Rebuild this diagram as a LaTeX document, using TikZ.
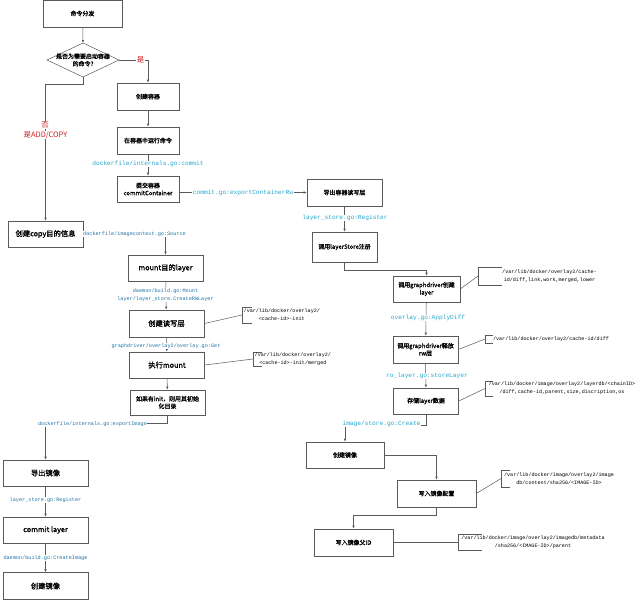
\documentclass[tikz,border=0pt]{standalone}
\usepackage{fontspec}
\setmainfont{Noto Sans CJK SC}
\newfontfamily\bcjk{Noto Sans CJK SC}[FakeBold=1.2]
\newfontfamily\monof{Liberation Mono}
\usetikzlibrary{arrows.meta}
\definecolor{cyR}{RGB}{40,168,208}
\definecolor{cyL}{RGB}{30,115,165}
\definecolor{redl}{RGB}{205,35,35}
\definecolor{bord}{RGB}{90,90,90}
\begin{document}
\begin{tikzpicture}[x=1bp,y=-1bp,
 box/.style={draw=bord,line width=0.6bp,fill=white,inner sep=1bp,align=center,font=\bcjk\fontsize{6}{7.5}\selectfont},
 bigbox/.style={box,font=\bcjk\fontsize{7.3}{9}\selectfont},
 sz/.style 2 args={minimum width=#1bp,minimum height=#2bp},
 conn/.style={draw=bord, line width=0.5bp, -{Latex[length=3bp,width=2.4bp]}},
 plain/.style={draw=bord, line width=0.5bp},
 lblR/.style={text=cyR,font=\monof\fontsize{6.2}{7}\selectfont,fill=white,inner sep=0.5bp},
 lblL/.style={text=cyL,font=\monof\fontsize{5.2}{8}\selectfont,fill=white,inner sep=0.5bp,align=center},
 note/.style={font=\monof\fontsize{5.1}{8}\selectfont,align=center,inner sep=0},
 redlbl/.style={text=redl,font=\fontsize{7.5}{9}\selectfont,fill=white,inner sep=0.5bp},
]
\useasboundingbox (0,0) rectangle (640,600);
\fill[white] (0,0) rectangle (640,600);

% ---- top part
\node[box,sz={79}{27}] (cmd) at (82.5,13.5) {命令分发};
\coordinate (dT) at (83,43);
\coordinate (dL) at (47,60);
\coordinate (dR) at (119,60);
\coordinate (dB) at (83,77);
\draw[plain,fill=white] (dT) -- (dR) -- (dB) -- (dL) -- cycle;
\node[font=\bcjk\fontsize{6}{7.5}\selectfont,align=center,inner sep=0] (dec) at (83,60) {是否为需要启动容器\\的命令?};
\node[box,sz={62}{27}] (create) at (148,96.5) {创建容器};
\node[box,sz={62}{27}] (run) at (148,140.5) {在容器中运行命令};
\node[box,sz={62}{26}] (commitc) at (148,189) {提交容器\\commitContainer};

% ---- right column
\node[box,sz={75}{27}] (export) at (344.5,192.5) {导出容器读写层};
\node[box,sz={65}{30}] (reg) at (344.5,247) {调用layerStore注册};
\node[box,sz={67}{26}] (gdcreate) at (426.5,289) {调用graphdriver创建\\layer};
\node[box,sz={65}{27}] (gdrel) at (425.5,349.5) {调用graphdriver释放\\rw层};
\node[box,sz={65}{26}] (store) at (426,401) {存储layer数据};
\node[box,sz={78}{26}] (mkimg) at (345,455) {创建镜像};
\node[box,sz={79}{27}] (writecfg) at (436.5,493.5) {写入镜像配置};
\node[box,sz={79}{27}] (writepar) at (353.5,542.5) {写入镜像父ID};

% ---- middle column
\node[bigbox,sz={75}{26}] (copyinfo) at (45.5,234) {创建copy目的信息};
\node[bigbox,sz={75}{26}] (mountl) at (165.5,268) {mount目的layer};
\node[bigbox,sz={75}{27}] (rwl) at (166.5,323.5) {创建读写层};
\node[bigbox,sz={75}{26}] (mnt) at (167,365) {执行mount};
\node[box,sz={75}{25}] (init) at (167.5,402.5) {如果有init，则用其初始\\化目录};

% ---- left bottom
\node[bigbox,sz={85}{26}] (expimg) at (45.5,473) {导出镜像};
\node[bigbox,sz={85}{26}] (commitl) at (45.5,530) {commit layer};
\node[bigbox,sz={85}{27}] (mkimg2) at (45.5,586) {创建镜像};

% ---- connectors
\draw[conn] (cmd) -- (dT);
\draw[conn] (dR) -| (create.north);
\coordinate (nb) at (83,84);
\draw[conn] (dB) -- (nb) -| (copyinfo.north);
\draw[conn] (create) -- (run);
\draw[conn] (run) -- (commitc);
\draw[conn] (commitc.east) |- (export.west);
\draw[conn] (export) -- (reg);
\draw[conn] (reg.south) -- ++(0,8) -| (gdcreate.north);
\draw[conn] (gdcreate) -- (gdrel);
\draw[conn] (gdrel) -- (store);
\draw[conn] (store.south) -- ++(0,11) -| (mkimg.north);
\draw[conn] (mkimg.east) -| (writecfg.north);
\draw[conn] (writecfg.south) -- ++(0,8) -| (writepar.north);
\draw[conn] (copyinfo.east) -| (mountl.north);
\draw[conn] (mountl) -- (rwl);
\draw[conn] (rwl) -- (mnt);
\draw[conn] (mnt) -- (init);
\draw[conn] (init.south) -- ++(0,8) -| (expimg.north);
\draw[conn] (expimg) -- (commitl);
\draw[conn] (commitl) -- (mkimg2);

% ---- labels
\node[redlbl] (yes) at (140.5,60) {是};
\node[redlbl] (no) at (45,125) {否};
\node[redlbl] (addcopy) at (45.5,135) {是ADD/COPY};
\node[lblR] (l1) at (148,164) {dockerfile/internals.go:commit};
\node[lblR] (l2) at (243,193) {commit.go:exportContainerRw};
\node[lblR] (l3) at (345,218) {layer\_store.go:Register};
\node[lblR] (l4) at (428,318) {overlay.go:ApplyDiff};
\node[lblR] (l5) at (427,376) {ro\_layer.go:storeLayer};
\node[lblR] (l6) at (381.5,424) {image/store.go:Create};
\node[lblL] (l7) at (134.5,234) {dockerfile/imagecontext.go:Source};
\node[lblL] (l8) at (165.5,295) {daemon/build.go:Mount\\layer/layer\_store.CreateRWLayer};
\node[lblL] (l9) at (166,346) {graphdriver/overlay2/overlay.go:Get};
\node[lblL] (l10) at (92.5,424) {dockerfile/internals.go:exportImage};
\node[lblL] (l11) at (45.5,500) {layer\_store.go:Register};
\node[lblL] (l12) at (45.5,558) {daemon/build.go:CreateImage};

% ---- annotations
% rwl
\coordinate (a0) at (242,315);
\draw[plain] (252,307) -- (a0 |- 0,307) -- (a0 |- 0,323) -- (252,323);
\node[note,anchor=west] (n0) at (243.5,315) {/var/lib/docker/overlay2/\\<cache-id>-init};
\draw[plain] (rwl.east) -- (a0);
% mnt
\coordinate (aM) at (253,359);
\draw[plain] (262,352) -- (253,352) -- (253,366) -- (262,366);
\node[note,anchor=west] (nM) at (254.5,359) {/var/lib/docker/overlay2/\\<cache-id>-init/merged};
\draw[plain] (mnt.east) -- (aM);
% gdcreate
\coordinate (a1) at (478,276);
\draw[plain] (502,267) -- (478,267) -- (478,285) -- (502,285);
\node[note] (n1) at (549.5,276) {/var/lib/docker/overlay2/cache-\\id/diff,link,work,merged,lower};
\draw[plain] (gdcreate.east) -- (a1);
% gdrel
\coordinate (a2) at (485,339);
\draw[plain] (493,335) -- (485,335) -- (485,343) -- (493,343);
\node[note] (n2) at (551,339) {/var/lib/docker/overlay2/cache-id/diff};
\draw[plain] (gdrel.east) -- (a2);
% store
\coordinate (a3) at (485,388.5);
\draw[plain] (493,381) -- (485,381) -- (485,396) -- (493,396);
\node[note] (n3) at (562,388.5) {/var/lib/docker/image/overlay2/layerdb/<chainID>\\/diff,cache-id,parent,size,discription,os};
\draw[plain] (store.east) -- (a3);
% writecfg
\coordinate (a4) at (501,478.5);
\draw[plain] (510,470) -- (501,470) -- (501,487) -- (510,487);
\node[note] (n4) at (559,478.5) {/var/lib/docker/image/overlay2/image\\db/content/sha256/<IMAGE-ID>};
\draw[plain] (writecfg.east) -- (a4);
% writepar
\coordinate (a5) at (458,542.5);
\draw[plain] (482,534.5) -- (458,534.5) -- (458,550.5) -- (482,550.5);
\node[note] (n5) at (533,542.5) {/var/lib/docker/image/overlay2/imagedb/metadata\\/sha256/<IMAGE-ID>/parent};
\draw[plain] (writepar.east) -- (a5);
\end{tikzpicture}
\end{document}
